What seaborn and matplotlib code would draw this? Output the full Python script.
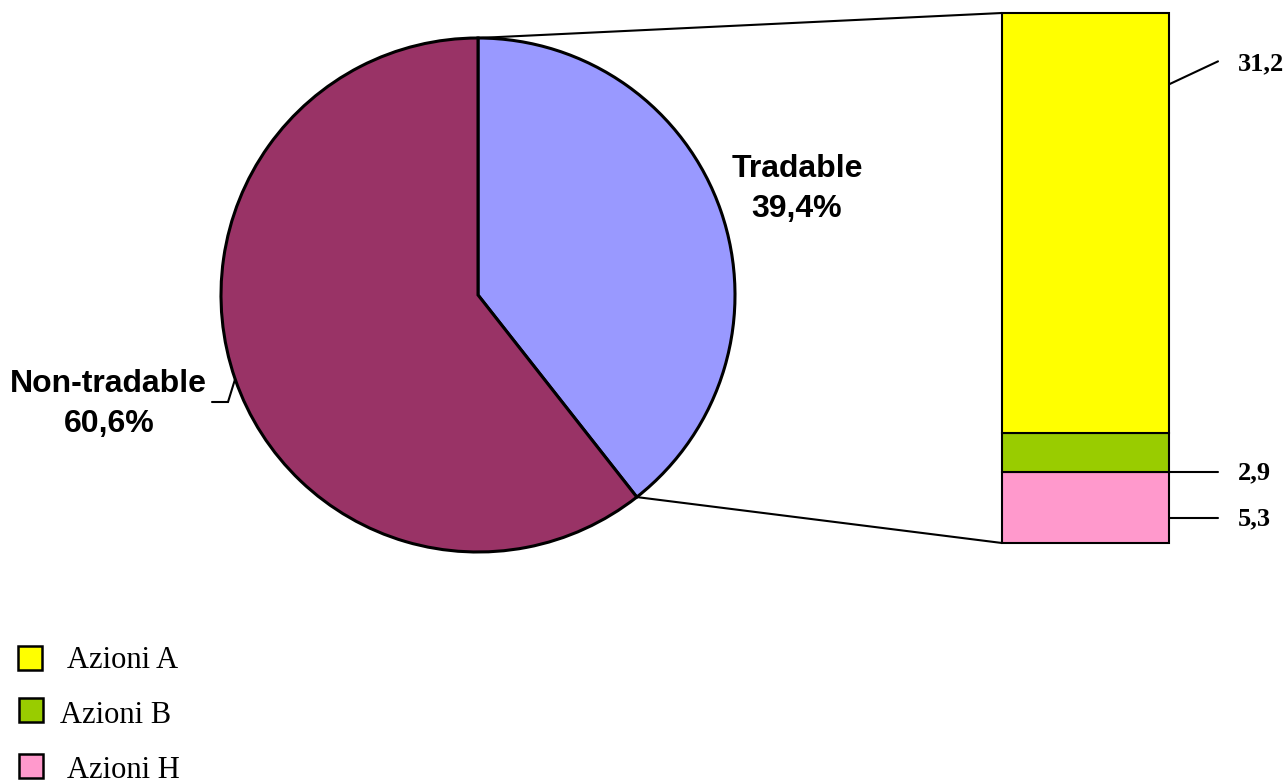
import numpy as np
import matplotlib
matplotlib.use("Agg")
import matplotlib.pyplot as plt
from matplotlib.patches import Rectangle
import seaborn as sns

# Share structure: tradable vs non-tradable
pie_labels = ["Tradable", "Non-tradable"]
pie_values = [39.4, 60.6]
pie_colors = ["#9999FF", "#993366"]

# Breakdown of the tradable part by share class
share_labels = ["Azioni A", "Azioni B", "Azioni H"]
share_values = [31.2, 2.9, 5.3]
share_colors = ["#FFFF00", "#99CC00", "#FF99CC"]


def fmt(v):
    return f"{v:.1f}".replace(".", ",")


sns.set_theme(style="white")
plt.rcParams["font.family"] = ["Liberation Sans", "DejaVu Sans"]
plt.rcParams["text.color"] = "black"

W, H = 1288, 783
fig = plt.figure(figsize=(W / 100, H / 100), dpi=100)
fig.patch.set_facecolor("white")

# Main canvas measured in pixels (y upwards)
ax = fig.add_axes([0, 0, 1, 1])
cx, cy, r = 478, H - 295, 257
wedges, _ = ax.pie(
    pie_values, colors=pie_colors, startangle=90, counterclock=False,
    center=(cx, cy), radius=r, frame=True,
    wedgeprops=dict(edgecolor="black", linewidth=2.2),
)
ax.set_xlim(0, W)
ax.set_ylim(0, H)
ax.axis("off")

serif = ["Liberation Serif", "DejaVu Serif"]
sans = ["Liberation Sans", "DejaVu Sans"]

# Pie labels
ax.text(797, H - 177, pie_labels[0], ha="center", va="baseline",
        fontsize=23, fontweight="bold", family=sans, color="black")
ax.text(797, H - 217, fmt(pie_values[0]) + "%", ha="center", va="baseline",
        fontsize=23, fontweight="bold", family=sans, color="black")
ax.text(108, H - 392, pie_labels[1], ha="center", va="baseline",
        fontsize=23, fontweight="bold", family=sans, color="black")
ax.text(109, H - 432, fmt(pie_values[1]) + "%", ha="center", va="baseline",
        fontsize=23, fontweight="bold", family=sans, color="black")

# Leader for the non-tradable label
w_non = wedges[1]
mid = np.deg2rad(0.5 * (w_non.theta1 + w_non.theta2))
ex, ey = cx + r * np.cos(mid), cy + r * np.sin(mid)
ax.plot([ex, 228, 212], [ey, H - 402, H - 402], color="black", lw=1.5,
        solid_joinstyle="miter")

# Stacked bar for the tradable breakdown
bx0, by_top, bw, bh = 1002, 13, 167, 530
bax = fig.add_axes([bx0 / W, (H - by_top - bh) / H, bw / W, bh / H])
total = sum(share_values)
order = [2, 1, 0]  # H at bottom, then B, then A on top
bottom = 0.0
bounds = {}
for i in order:
    bax.bar(0, share_values[i], bottom=bottom, width=1.0,
            color=share_colors[i], edgecolor="black", linewidth=1.5,
            clip_on=False)
    bounds[i] = (bottom, bottom + share_values[i])
    bottom += share_values[i]
bax.set_xlim(-0.5, 0.5)
bax.set_ylim(0, total)
bax.axis("off")


def to_main(x, y):
    disp = bax.transData.transform((x, y))
    return ax.transData.inverted().transform(disp)


# Connector lines from pie to bar
w_tr = wedges[0]
t_top = np.deg2rad(w_tr.theta2)
t_bot = np.deg2rad(w_tr.theta1)
p_top = (cx + r * np.cos(t_top), cy + r * np.sin(t_top))
p_bot = (cx + r * np.cos(t_bot), cy + r * np.sin(t_bot))
b_top = to_main(-0.5, total)
b_bot = to_main(-0.5, 0)
ax.plot([p_top[0], b_top[0]], [p_top[1], b_top[1]], color="black", lw=1.5)
ax.plot([p_bot[0], b_bot[0]], [p_bot[1], b_bot[1]], color="black", lw=1.5)

# Value labels for the bar segments
label_font = dict(fontsize=19, fontweight="bold", family=serif,
                  ha="left", va="center", color="black")
# Azioni A
a0, a1 = bounds[0]
pa = to_main(0.5, a0 + 0.83 * (a1 - a0))
ax.plot([pa[0], 1218], [pa[1], pa[1] + 23], color="black", lw=1.5)
ax.text(1238, pa[1] + 21, fmt(share_values[0]), **label_font)
# Azioni B
b0, b1 = bounds[1]
pb = to_main(0.5, b0)
ax.plot([pb[0], 1218], [pb[1], pb[1]], color="black", lw=1.5)
ax.text(1238, pb[1] - 1, fmt(share_values[1]), **label_font)
# Azioni H
h0, h1 = bounds[2]
ph = to_main(0.5, h0 + 0.35 * (h1 - h0))
ax.plot([ph[0], 1218], [ph[1], ph[1]], color="black", lw=1.5)
ax.text(1238, ph[1] - 1, fmt(share_values[2]), **label_font)

# Legend
legend_rows = [(18, 646, 67, 668), (19, 698, 60, 723), (19, 754, 67, 778)]
for (sx, sy, tx, ty), lab, col in zip(legend_rows, share_labels, share_colors):
    ax.add_patch(Rectangle((sx, H - sy - 24), 24, 24, facecolor=col,
                           edgecolor="black", linewidth=1.8))
    ax.text(tx, H - ty, lab, ha="left", va="baseline", fontsize=22,
            family=serif, color="black")

fig.savefig("out.png", dpi=100, facecolor="white")
